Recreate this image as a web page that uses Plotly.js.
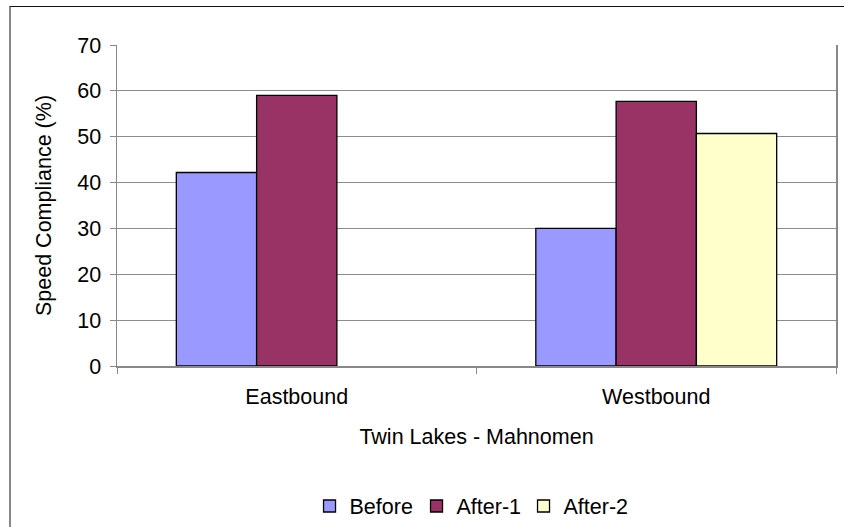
<!DOCTYPE html>
<html>
<head>
<meta charset="utf-8">
<script src="https://cdn.plot.ly/plotly-3.0.1.min.js"></script>
<style>
html,body{margin:0;padding:0;background:#fff;}
#wrap{position:relative;width:844px;height:527px;overflow:hidden;}
#chart{position:absolute;left:0;top:0;width:844px;height:527px;}
#frame{position:absolute;left:9px;top:6px;width:900px;height:600px;border-left:2px solid #888;border-top:1px solid #111;pointer-events:none;}
</style>
</head>
<body>
<div id="wrap"><div id="chart"></div><div id="frame"></div></div>
<script>
const categories = ['Eastbound', 'Westbound'];
const seriesNames = ['Before', 'After-1', 'After-2'];
const before = [42.2, 30.0];
const after1 = [59.0, 57.7];
const after2 = [null, 50.7];
const seriesValues = [before, after1, after2];
const seriesColors = ['#9999FF', '#993366', '#FFFFCC'];
const yTicks = [0, 10, 20, 30, 40, 50, 60, 70];

const font = {family: 'Liberation Sans, Arial, sans-serif', size: 21.5, color: '#000'};
const traces = seriesNames.map((name, i) => ({
  type: 'bar', name: name, x: categories, y: seriesValues[i],
  marker: {color: seriesColors[i], line: {color: '#000', width: 1.3}},
  hoverinfo: 'x+y+name'
}));

const layout = {
  width: 844, height: 527,
  margin: {l: 117, r: 8, t: 45, b: 161},
  paper_bgcolor: 'rgba(0,0,0,0)', plot_bgcolor: '#fff',
  font: font,
  barmode: 'group', bargap: 0.33, bargroupgap: 0,
  showlegend: true,
  legend: {orientation: 'h', x: 0.491, xanchor: 'center', xref: 'paper',
           y: 1 - 506/527, yanchor: 'middle', yref: 'container',
           font: font, itemwidth: 30, entrywidth: 62, traceorder: 'normal'},
  xaxis: {type: 'category', range: [-0.5, 1.5], tickson: 'boundaries',
          ticks: 'outside', ticklen: 6, tickcolor: '#888', tickwidth: 1,
          showline: true, linecolor: '#888', linewidth: 1.5, showgrid: false, zeroline: false,
          tickfont: font, ticklabelstandoff: 11,
          title: {text: 'Twin Lakes - Mahnomen', font: font, standoff: 20}},
  yaxis: {range: [0, 70], tickvals: yTicks, ticks: 'outside', ticklen: 6, tickcolor: '#888',
          showline: true, linecolor: '#888', linewidth: 1.5, mirror: true,
          showgrid: true, gridcolor: '#8c8c8c', gridwidth: 1.2, zeroline: false,
          tickfont: font, ticklabelstandoff: 4,
          title: {text: 'Speed Compliance (%)', font: font, standoff: 20}}
};
Plotly.newPlot('chart', traces, layout, {displayModeBar: false, staticPlot: true});
</script>
</body>
</html>
